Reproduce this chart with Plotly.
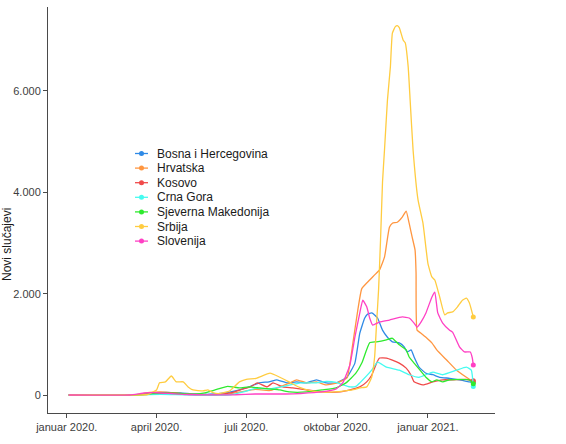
import plotly.graph_objects as go

# ---- data (7-day average of new cases) ----
countries = ["Bosna i Hercegovina", "Hrvatska", "Kosovo", "Crna Gora",
             "Sjeverna Makedonija", "Srbija", "Slovenija"]
colors = ["#2f8ae6", "#ff9640", "#f04a4a", "#45fbf0", "#2eea2e", "#ffcc40", "#ff40c4"]

bih_dates = ["2020-01-03", "2020-03-05", "2020-03-25", "2020-04-10", "2020-04-25", "2020-05-10",
             "2020-05-25", "2020-06-10", "2020-06-24", "2020-07-04", "2020-07-14", "2020-07-24",
             "2020-08-01", "2020-08-11", "2020-08-21", "2020-08-31", "2020-09-10", "2020-09-20",
             "2020-09-30", "2020-10-11", "2020-10-19", "2020-10-24", "2020-10-29", "2020-11-01",
             "2020-11-05", "2020-11-08", "2020-11-11", "2020-11-16", "2020-11-21", "2020-11-26",
             "2020-12-03", "2020-12-08", "2020-12-11", "2020-12-15", "2020-12-18", "2020-12-23",
             "2020-12-30", "2021-01-06", "2021-01-13", "2021-01-23", "2021-02-02", "2021-02-12",
             "2021-02-16"]
bih_cases = [0, 0, 30, 50, 40, 20,
             15, 40, 100, 160, 240, 260,
             300, 240, 260, 240, 300, 240,
             240, 350, 630, 1220, 1520, 1600,
             1620, 1580, 1520, 1280, 1140, 1050,
             1030, 950, 850, 890, 750, 550,
             430, 400, 350, 330, 300, 260,
             250]

hrv_dates = ["2020-01-03", "2020-03-10", "2020-03-25", "2020-04-05", "2020-04-20", "2020-05-10",
             "2020-06-10", "2020-06-25", "2020-07-10", "2020-07-25", "2020-08-14", "2020-08-21",
             "2020-08-31", "2020-09-10", "2020-09-20", "2020-10-01", "2020-10-11", "2020-10-17",
             "2020-10-22", "2020-10-26", "2020-11-03", "2020-11-08", "2020-11-13", "2020-11-18",
             "2020-11-23", "2020-11-26", "2020-12-01", "2020-12-06", "2020-12-10", "2020-12-13",
             "2020-12-16", "2020-12-19", "2020-12-20", "2020-12-21", "2020-12-25", "2020-12-30",
             "2021-01-05", "2021-01-10", "2021-01-20", "2021-01-30", "2021-02-09", "2021-02-16"]
hrv_cases = [0, 0, 50, 60, 40, 10,
             5, 60, 110, 90, 240, 300,
             240, 260, 200, 240, 340, 1030,
             1680, 2100, 2270, 2370, 2470, 2720,
             3310, 3390, 3410, 3510, 3630, 3390,
             3120, 2860, 2410, 1280, 1220, 1140,
             1030, 890, 690, 490, 350, 260]

kos_dates = ["2020-01-03", "2020-03-12", "2020-04-01", "2020-04-15", "2020-05-05", "2020-06-01",
             "2020-06-15", "2020-06-28", "2020-07-05", "2020-07-12", "2020-07-22", "2020-07-28",
             "2020-08-07", "2020-08-17", "2020-08-31", "2020-09-16", "2020-10-04", "2020-10-14",
             "2020-10-24", "2020-10-31", "2020-11-05", "2020-11-10", "2020-11-13", "2020-11-20",
             "2020-11-26", "2020-12-03", "2020-12-10", "2020-12-15", "2020-12-18", "2020-12-27",
             "2021-01-06", "2021-01-16", "2021-01-26", "2021-02-09", "2021-02-16"]
kos_cases = [0, 0, 30, 40, 10, 5,
             40, 120, 160, 240, 160, 240,
             160, 140, 100, 60, 60, 100,
             160, 260, 390, 630, 730, 730,
             690, 630, 530, 390, 260, 200,
             260, 300, 300, 310, 280]

cg_dates = ["2020-01-03", "2020-03-15", "2020-04-05", "2020-04-20", "2020-05-10", "2020-06-15",
            "2020-06-28", "2020-07-10", "2020-07-25", "2020-08-10", "2020-08-25", "2020-09-10",
            "2020-09-20", "2020-09-30", "2020-10-07", "2020-10-14", "2020-10-20", "2020-10-24",
            "2020-11-05", "2020-11-11", "2020-11-20", "2020-12-03", "2020-12-13", "2020-12-23",
            "2020-12-30", "2021-01-06", "2021-01-16", "2021-01-30", "2021-02-09", "2021-02-14",
            "2021-02-16"]
cg_cases = [0, 0, 15, 10, 0, 5,
            60, 130, 120, 180, 240, 240,
            270, 250, 200, 160, 170, 240,
            490, 650, 550, 490, 400, 350,
            400, 450, 400, 490, 550, 490,
            170]

mkd_dates = ["2020-01-03", "2020-03-10", "2020-03-28", "2020-04-10", "2020-04-25", "2020-05-10",
             "2020-05-20", "2020-06-01", "2020-06-12", "2020-06-24", "2020-07-04", "2020-07-14",
             "2020-07-24", "2020-08-04", "2020-08-14", "2020-08-31", "2020-09-16", "2020-09-30",
             "2020-10-10", "2020-10-20", "2020-10-26", "2020-11-03", "2020-11-10", "2020-11-20",
             "2020-11-26", "2020-12-03", "2020-12-10", "2020-12-13", "2020-12-18", "2020-12-24",
             "2020-12-30", "2021-01-05", "2021-01-10", "2021-01-16", "2021-01-23", "2021-02-02",
             "2021-02-12", "2021-02-16"]
mkd_cases = [0, 0, 30, 40, 30, 15,
             40, 110, 170, 140, 160, 140,
             120, 100, 60, 60, 100, 140,
             240, 430, 630, 1030, 1050, 1090,
             1120, 990, 890, 750, 630, 490,
             350, 260, 300, 260, 300, 310,
             300, 220]

srb_dates = ["2020-01-03", "2020-03-08", "2020-03-23", "2020-04-01", "2020-04-04", "2020-04-10",
             "2020-04-16", "2020-04-21", "2020-04-28", "2020-05-03", "2020-05-08", "2020-05-18",
             "2020-05-23", "2020-05-29", "2020-06-04", "2020-06-14", "2020-06-24", "2020-07-01",
             "2020-07-11", "2020-07-25", "2020-08-04", "2020-08-14", "2020-08-24", "2020-09-03",
             "2020-09-14", "2020-09-29", "2020-10-09", "2020-10-19", "2020-10-24", "2020-10-31",
             "2020-11-05", "2020-11-08", "2020-11-10", "2020-11-12", "2020-11-14", "2020-11-16",
             "2020-11-18", "2020-11-21", "2020-11-24", "2020-11-26", "2020-11-29", "2020-12-01",
             "2020-12-03", "2020-12-07", "2020-12-09", "2020-12-12", "2020-12-14", "2020-12-17",
             "2020-12-22", "2020-12-27", "2021-01-01", "2021-01-05", "2021-01-08", "2021-01-13",
             "2021-01-18", "2021-01-21", "2021-01-26", "2021-01-31", "2021-02-05", "2021-02-09",
             "2021-02-12", "2021-02-16"]
srb_cases = [0, 0, 10, 100, 240, 260,
             375, 260, 260, 160, 100, 80,
             100, 40, 30, 80, 260, 310,
             330, 430, 350, 250, 150, 90,
             60, 60, 80, 110, 140, 160,
             350, 750, 1420, 2070, 3060, 4200,
             4830, 5820, 6480, 7140, 7270, 7290,
             7250, 7000, 6950, 6480, 5820, 4830,
             3850, 3390, 2600, 2330, 2270, 1930,
             1580, 1620, 1640, 1740, 1870, 1910,
             1820, 1540]

svn_dates = ["2020-01-03", "2020-03-05", "2020-03-20", "2020-04-01", "2020-04-15", "2020-05-01",
             "2020-05-20", "2020-06-20", "2020-07-10", "2020-08-10", "2020-08-25", "2020-09-15",
             "2020-09-30", "2020-10-07", "2020-10-14", "2020-10-19", "2020-10-24", "2020-10-27",
             "2020-10-31", "2020-11-03", "2020-11-06", "2020-11-13", "2020-11-23", "2020-12-06",
             "2020-12-13", "2020-12-18", "2020-12-21", "2020-12-25", "2020-12-30", "2021-01-05",
             "2021-01-08", "2021-01-11", "2021-01-16", "2021-01-23", "2021-01-26", "2021-02-02",
             "2021-02-07", "2021-02-13", "2021-02-15", "2021-02-16"]
svn_cases = [0, 0, 40, 45, 30, 10,
             2, 5, 20, 20, 30, 60,
             120, 250, 600, 1140, 1620, 1870,
             1740, 1520, 1380, 1440, 1480, 1540,
             1520, 1420, 1340, 1440, 1620, 1930,
             2030, 1620, 1420, 1280, 1240, 950,
             850, 850, 730, 590]

tick_dates = ["2020-01-01", "2020-04-01", "2020-07-01", "2020-10-01", "2021-01-01"]
tick_labels = ["januar 2020.", "april 2020.", "juli 2020.", "oktobar 2020.", "januar 2021."]

series = [
    (bih_dates, bih_cases),
    (hrv_dates, hrv_cases),
    (kos_dates, kos_cases),
    (cg_dates, cg_cases),
    (mkd_dates, mkd_cases),
    (srb_dates, srb_cases),
    (svn_dates, svn_cases),
]

fig = go.Figure()

for name, color, (dates, cases) in zip(countries, colors, series):
    fig.add_trace(go.Scatter(x=dates, y=cases, mode="lines", name=name,
                             line=dict(color=color, width=1.3, shape="spline", smoothing=0.4),
                             showlegend=False))
    # dot on the last observation
    fig.add_trace(go.Scatter(x=[dates[-1]], y=[cases[-1]], mode="markers",
                             marker=dict(color=color, size=5), showlegend=False,
                             hoverinfo="skip"))

# hand-drawn legend (ggplot style, tight rows)
plot_l, plot_r, plot_t, plot_b = 48, 495, 7, 413
pw, ph = plot_r - plot_l, plot_b - plot_t


def px_x(v):
    return (v - plot_l) / pw


def px_y(v):
    return (plot_b - v) / ph


for i, (name, color) in enumerate(zip(countries, colors)):
    yy = 153.5 + i * 14.6
    fig.add_shape(type="line", xref="paper", yref="paper",
                  x0=px_x(135), x1=px_x(148), y0=px_y(yy), y1=px_y(yy),
                  line=dict(color=color, width=1.3))
    fig.add_shape(type="circle", xref="paper", yref="paper",
                  x0=px_x(139), x1=px_x(144), y0=px_y(yy + 2.5), y1=px_y(yy - 2.5),
                  fillcolor=color, line=dict(width=0))
    fig.add_annotation(text=name, xref="paper", yref="paper", x=px_x(155), y=px_y(yy),
                       xanchor="left", yanchor="middle", showarrow=False,
                       font=dict(size=12, color="#1a1a1a"))

# y axis title at the far left edge
fig.add_annotation(text="Novi slučajevi", xref="paper", yref="paper",
                   x=px_x(7), y=px_y(245), textangle=-90, showarrow=False,
                   xanchor="center", yanchor="middle",
                   font=dict(size=12, color="#1a1a1a"))

axis_style = dict(showline=True, linecolor="#4a4a4a", linewidth=1.1, ticks="outside",
                  ticklen=4, tickcolor="#4a4a4a", showgrid=False, zeroline=False,
                  tickfont=dict(size=11, color="#3d3d3d"))

fig.update_xaxes(type="date", range=["2019-12-13", "2021-03-10"],
                 tickvals=tick_dates, ticktext=tick_labels, **axis_style)
fig.update_yaxes(range=[-355, 7657], tickvals=[0, 2000, 4000, 6000], tickformat=",d",
                 **axis_style)

fig.update_layout(
    width=566, height=444,
    margin=dict(l=plot_l, r=566 - plot_r, t=plot_t, b=444 - plot_b),
    paper_bgcolor="white", plot_bgcolor="white",
    separators=",.",
    font=dict(family="Liberation Sans, Arial, sans-serif"),
    showlegend=False,
)

# the page body has a default 8px margin; drop it so the figure sits at 0,0
fig.write_html("out.html", config={"displayModeBar": False},
               post_script="document.body.style.margin = '0';")
